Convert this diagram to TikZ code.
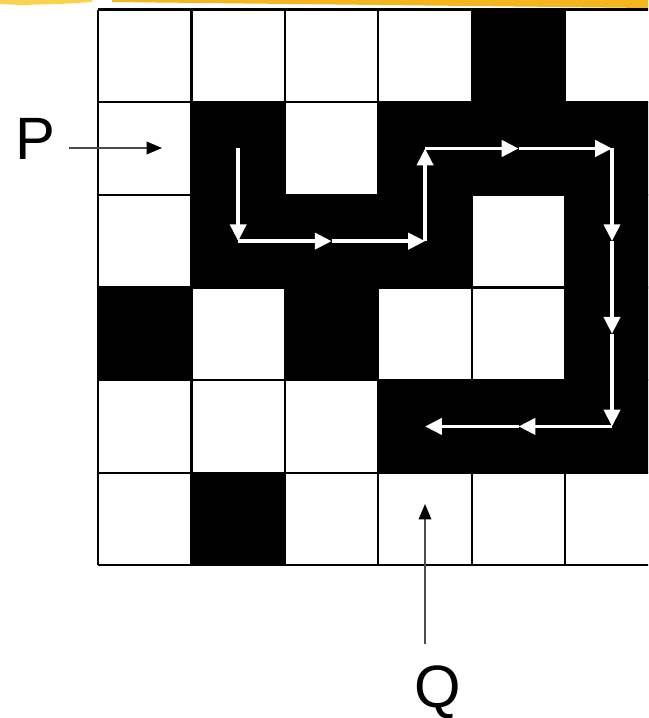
\documentclass[tikz,border=0pt]{standalone}
\usepackage{fontspec}
\setmainfont{Liberation Sans}
\usepackage{tikz}
\usetikzlibrary{arrows.meta}
\definecolor{mazegold}{HTML}{F5B51C}
\definecolor{mazeyellow}{HTML}{FAD24E}
\tikzset{
  route/.style={white,line width=1pt,-{Triangle[length=4.8pt,width=4.6pt]}},
  pointer/.style={black!70,line width=0.45pt,-{Triangle[length=4.4pt,width=3.6pt,black]}},
  letter/.style={font=\fontsize{17}{17}\selectfont,inner sep=2pt}
}

\begin{document}
\begin{tikzpicture}[x=0.01cm,y=-0.01cm]
  \useasboundingbox (0,0) rectangle (648,718);
  \clip (0,0) rectangle (648,718);
  % brush stroke along the top
  \fill[mazeyellow] (0,0) -- (92,0) -- (92,2) -- (60,4) -- (20,5) -- (0,4) -- cycle;
  \fill[mazegold] (112,0) -- (648,0) -- (648,8) -- (560,7) -- (470,6) -- (380,5) -- (290,4) -- (200,3) -- (112,2) -- cycle;
  % the maze
  \begin{scope}[shift={(98,9.5)},x=0.934cm,y=-0.926cm]
    \fill[white] (0,0) rectangle (7,6);
    \foreach \c/\r in {4/0,1/1,3/1,4/1,5/1,6/1,1/2,2/2,3/2,5/2,6/2,0/3,2/3,5/3,6/3,3/4,4/4,5/4,6/4,1/5}
      \fill[black] (\c,\r) rectangle ++(1,1);
    \foreach \c in {0,...,7}
      \draw[line width=0.6pt] (\c,0) -- (\c,6);
    \foreach \r in {0,...,6}
      \draw[line width=0.6pt] (0,\r) -- (7,\r);
    \foreach \c in {0,...,6}
      \foreach \r in {0,...,5}
        \coordinate (c\c\r) at (\c+0.5,\r+0.5);
    % path through the black cells
    \foreach \a/\b in {c11/c12,c12/c22,c22/c32,c32/c31,c31/c41,c41/c51,c51/c52,c52/c53,c53/c54,c54/c44,c44/c34}
      \draw[route] (\a) -- (\b);
  \end{scope}
  % entry and exit
  \node[letter] (P) at (35,139) {P};
  \coordinate (Pin) at (162,148);
  \draw[pointer] (P.east |- Pin) ++(6,0) -- (Pin);
  \node[letter] (Q) at (438,692) {Q};
  \coordinate (Qin) at (425,504);
  \draw[pointer] (Q.north -| Qin) ++(0,-14) -- (Qin);
\end{tikzpicture}
\end{document}
